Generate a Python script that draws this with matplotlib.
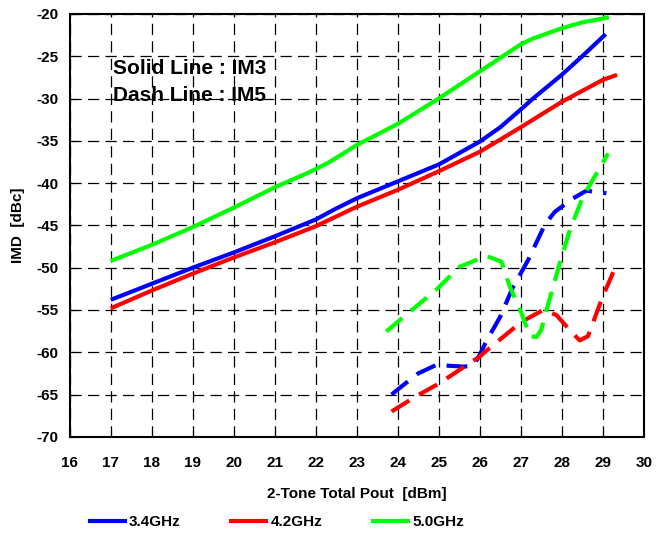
import matplotlib.pyplot as plt

plt.rcParams['font.family'] = ['Liberation Sans', 'DejaVu Sans']
plt.rcParams['font.weight'] = 'bold'
plt.rcParams['axes.unicode_minus'] = False

# IM3 (solid)
x_im3_34 = [17, 18, 19, 20, 21, 22, 22.5, 23, 24, 25, 26, 26.5, 27, 27.3, 28, 28.5, 29.07]
y_im3_34 = [-53.8, -51.9, -50.0, -48.2, -46.3, -44.3, -43.0, -41.8, -39.8, -37.8, -35.1, -33.4, -31.3, -30.0, -27.2, -25.0, -22.4]

x_im3_42 = [17, 18, 19, 20, 21, 22, 23, 24, 25, 26, 27, 28, 29, 29.35]
y_im3_42 = [-54.8, -52.7, -50.7, -48.8, -47.0, -45.1, -42.8, -40.8, -38.6, -36.3, -33.4, -30.4, -27.8, -27.2]

x_im3_50 = [17, 18, 19, 20, 21, 21.85, 22.34, 23, 24, 25, 26, 27, 27.3, 28, 28.5, 29.15]
y_im3_50 = [-49.2, -47.3, -45.2, -42.9, -40.5, -38.7, -37.5, -35.5, -33.0, -30.0, -26.8, -23.6, -22.9, -21.7, -21.0, -20.4]

# IM5 (dashed)
x_im5_34 = [23.85, 24.09, 24.5, 24.94, 25.6, 25.85, 26.0, 26.16, 26.5, 26.8, 27.18, 27.59, 27.83, 28.28, 28.6, 29.09]
y_im5_34 = [-65.0, -64.05, -62.5, -61.5, -61.7, -61.6, -60.3, -58.7, -55.8, -52.4, -49.1, -44.9, -43.4, -41.8, -40.9, -41.2]

x_im5_42 = [23.85, 24.45, 25.02, 26.0, 26.24, 27.02, 27.55, 27.87, 28.2, 28.44, 28.64, 29.0, 29.35]
y_im5_42 = [-67.0, -65.2, -63.65, -60.5, -59.5, -56.4, -55.0, -55.6, -57.4, -58.6, -58.1, -53.4, -49.5]

x_im5_50 = [23.72, 24.05, 24.94, 25.51, 26.16, 26.53, 26.73, 27.02, 27.22, 27.38, 27.5, 27.63, 27.95, 28.2, 28.52, 29.13]
y_im5_50 = [-57.55, -56.2, -52.6, -49.9, -48.6, -49.3, -52.2, -55.4, -58.1, -58.2, -57.35, -55.0, -49.5, -45.5, -41.6, -36.5]

labels = ['3.4GHz', '4.2GHz', '5.0GHz']
colors = ['#0000FF', '#FF0000', '#00FF00']

fig = plt.figure(figsize=(6.65, 5.36), dpi=100)
ax = fig.add_axes([0.105, 0.185, 0.863, 0.789])

im3 = [(x_im3_34, y_im3_34), (x_im3_42, y_im3_42), (x_im3_50, y_im3_50)]
im5 = [(x_im5_34, y_im5_34), (x_im5_42, y_im5_42), (x_im5_50, y_im5_50)]

handles = []
for (xs, ys), c, lab in zip(im3, colors, labels):
    h, = ax.plot(xs, ys, color=c, lw=3, label=lab, solid_capstyle='butt')
    handles.append(h)
for (xs, ys), c in zip(im5, colors):
    ax.plot(xs, ys, color=c, lw=3, linestyle=(0, (5, 2.7)))

ax.set_xlim(16, 30)
ax.set_ylim(-70, -20)
ax.set_xticks(range(16, 31))
ax.set_yticks(range(-70, -19, 5))
ax.grid(True, color='black', linestyle=(0, (9, 5)), linewidth=0.9)
ax.tick_params(axis='both', direction='in', labelsize=11, length=5)
ax.tick_params(axis='x', pad=14)
ax.tick_params(axis='y', pad=8)
for lbl in ax.get_xticklabels() + ax.get_yticklabels():
    lbl.set_fontweight('bold')
for sp in ax.spines.values():
    sp.set_linewidth(1.5)

ax.set_xlabel('2-Tone Total Pout  [dBm]', fontsize=11, fontweight='bold', labelpad=12)
ax.set_ylabel('IMD  [dBc]', fontsize=11, fontweight='bold', labelpad=8)

ax.text(17.05, -26.4, 'Solid Line : IM3', fontsize=15, fontweight='bold', va='center')
ax.text(17.05, -29.6, 'Dash Line : IM5', fontsize=15, fontweight='bold', va='center')

fig.legend(handles=handles, labels=labels, loc='lower center', bbox_to_anchor=(0.415, -0.013),
           ncol=3, frameon=False, handlelength=2.55, handletextpad=0.15, columnspacing=3.2,
           prop={'weight': 'bold', 'size': 11})

fig.savefig('out.png', dpi=100)
